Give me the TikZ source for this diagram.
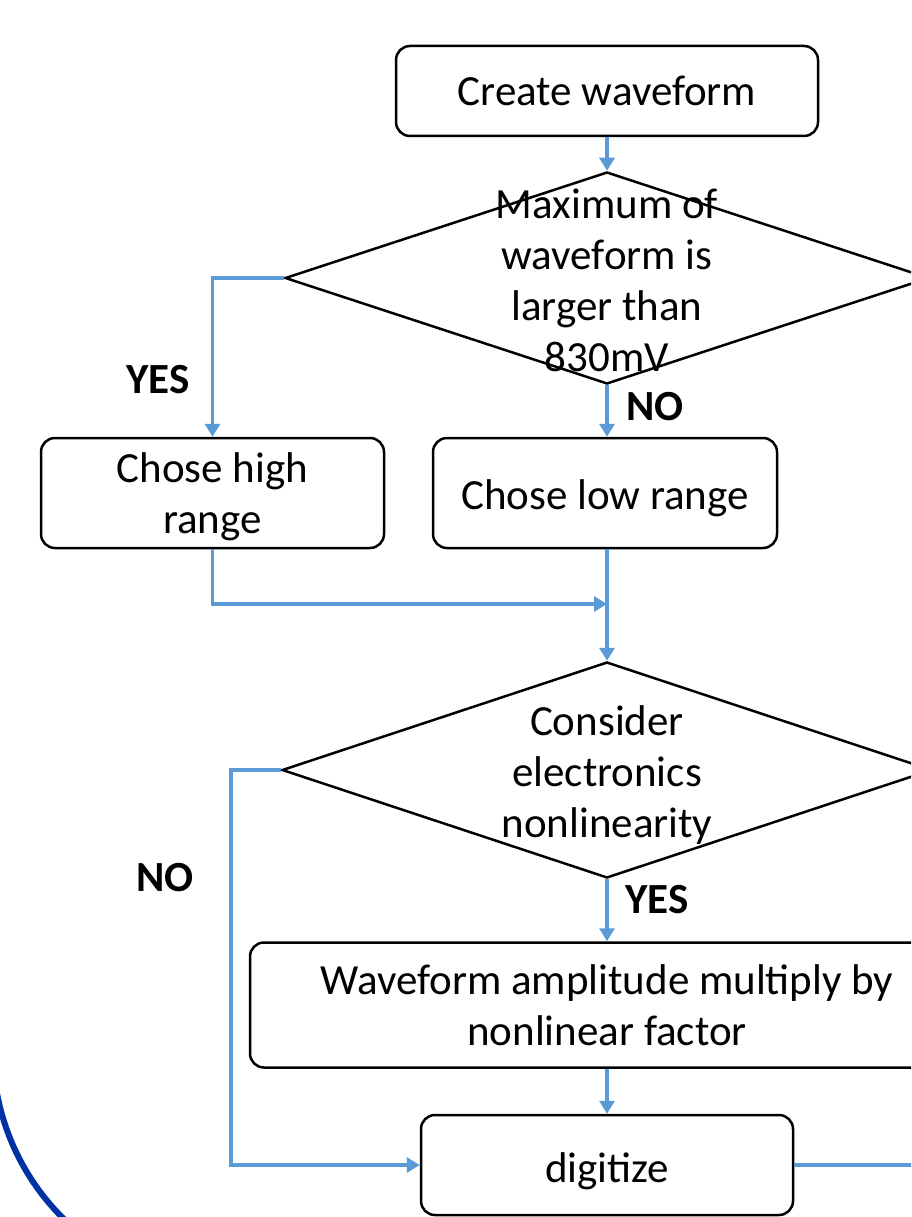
\documentclass[tikz,border=0pt]{standalone}
\usepackage{fontspec}
\setmainfont{Carlito}
\usetikzlibrary{shapes.geometric,arrows.meta}
\definecolor{flowblue}{RGB}{91,155,213}
\definecolor{ringblue}{RGB}{0,50,165}
\begin{document}
\begin{tikzpicture}[x=1pt,y=-1pt,
  box/.style={draw=black,line width=2.5pt,rounded corners=14pt,fill=white,inner sep=0pt},
  decision/.style={draw=black,line width=2.5pt,shape=diamond,inner sep=0pt},
  txt/.style={font=\fontsize{43}{51}\selectfont,align=center},
  lbl/.style={font=\bfseries\fontsize{43}{50}\selectfont},
  flow/.style={draw=flowblue,line width=3.5pt,-{Triangle[width=15pt,length=13pt]}},
  link/.style={draw=flowblue,line width=3.5pt}]
\useasboundingbox (0,0) rectangle (911,1217);
\clip (0,0) rectangle (911,1217);
\fill[white] (0,0) rectangle (911,1217);

% partial ring in the lower left corner
\draw[ringblue,line width=6pt] (230,1050) ++(172:237) arc[start angle=172,end angle=128,radius=237];

% process boxes and decisions
\node[box,txt,minimum width=422pt,minimum height=90pt] (create) at (607,91) {Create waveform};
\node[decision,minimum width=644pt,minimum height=212pt] (maxq) at (607,278) {};
\node[txt] (maxqt) at (607,280) {Maximum of\\waveform is\\larger than\\830mV};
\node[box,minimum width=343pt,minimum height=110pt] (high) at (212.5,493) {};
\node[txt] (hight) at (212.5,497) {Chose high\\range};
\node[box,minimum width=344pt,minimum height=110pt] (low) at (605,493) {};
\node[txt] (lowt) at (605,498) {Chose low range};
\node[decision,minimum width=650pt,minimum height=216pt] (nonlin) at (607,770) {};
\node[txt] (nonlint) at (607,775) {Consider\\electronics\\nonlinearity};
\node[box,txt,minimum width=714pt,minimum height=125pt] (scale) at (607,1005) {Waveform amplitude multiply by\\nonlinear factor};
\node[box,minimum width=372pt,minimum height=100pt] (digit) at (607,1165) {};
\node[txt] (digitt) at (607,1171) {digitize};

\coordinate (merge) at (607,604);
\coordinate (exit) at (930,1165);

% connectors
\draw[flow] (create.south) -- (maxq.north);
\draw[flow] (maxq.west) -| (high.north);
\draw[flow] (maxq.south) -- (maxq.south |- low.north);
\draw[flow] (high.south) |- (merge);
\draw[flow] (nonlin.north |- low.south) -- (nonlin.north);
\draw[flow] (nonlin.south) -- (scale.north);
\draw[flow] (scale.south) -- (digit.north);
\draw[flow] (nonlin.west) -- ++(-50,0) |- (digit.west);
\draw[link] (digit.east) -- (exit);

% branch labels
\node[lbl] (yes1) at (158,380) {YES};
\node[lbl] (no1) at (655,407) {NO};
\node[lbl] (no2) at (165,878) {NO};
\node[lbl] (yes2) at (657,900) {YES};
\end{tikzpicture}
\end{document}
